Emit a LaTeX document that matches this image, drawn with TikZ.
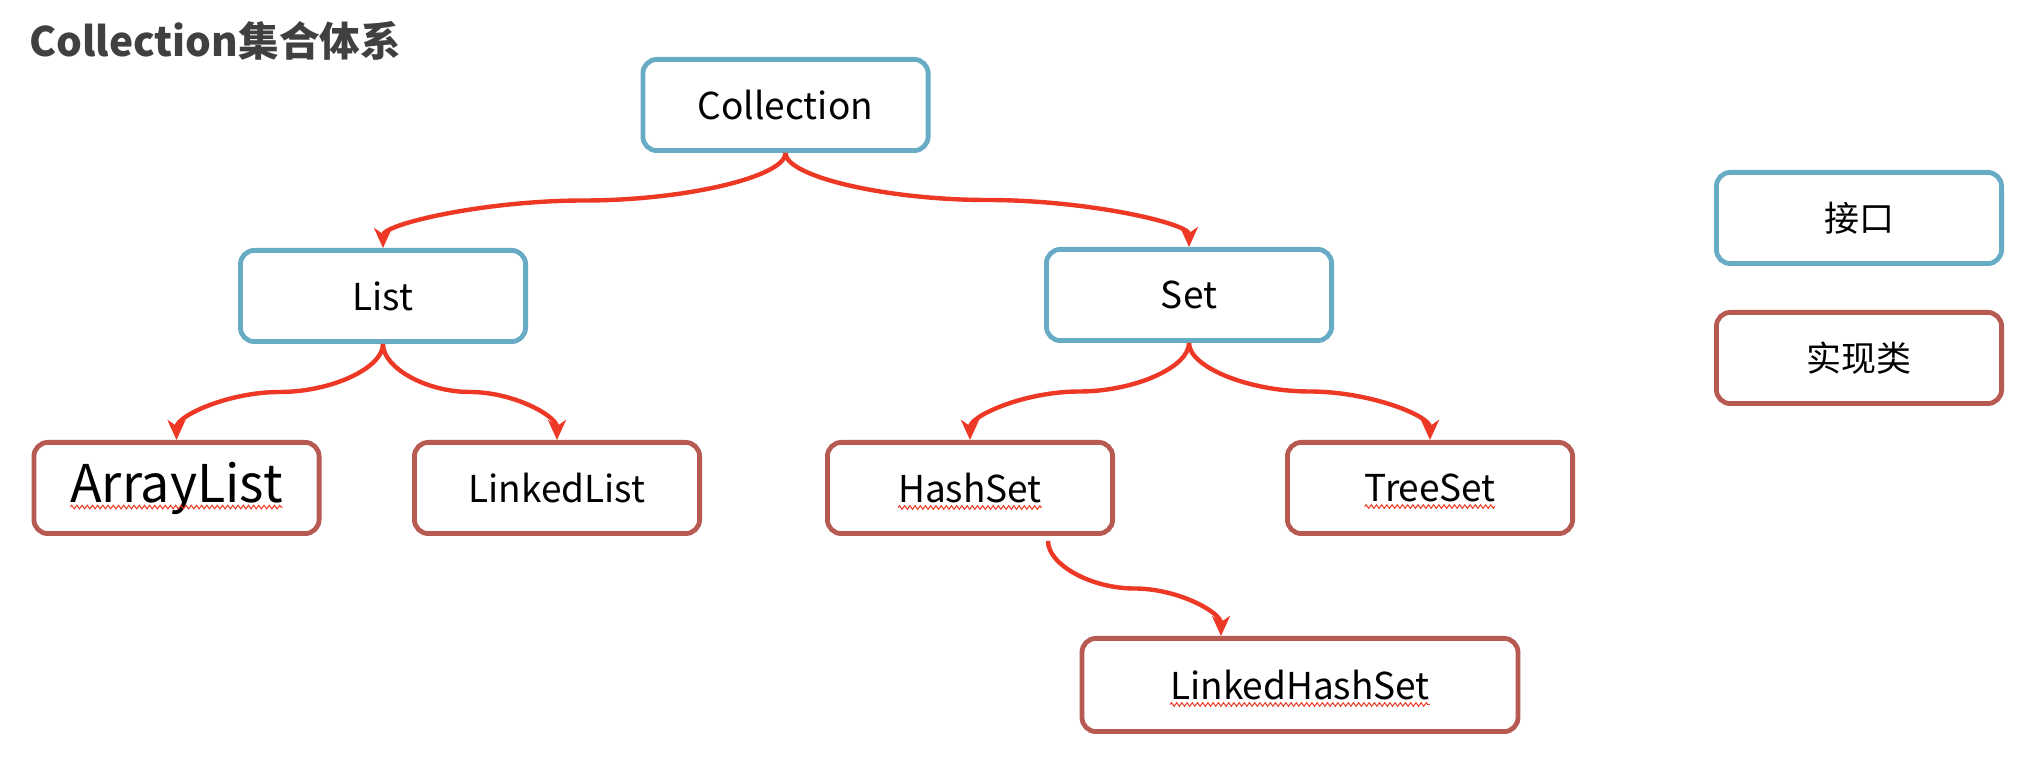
\documentclass[tikz,border=0pt]{standalone}
\usepackage{fontspec}
\setmainfont{Noto Sans CJK SC}
\usetikzlibrary{arrows.meta,calc,decorations.pathmorphing}
\definecolor{ifaceblue}{RGB}{103,171,197}
\definecolor{implred}{RGB}{182,90,82}
\definecolor{arrowred}{RGB}{236,56,36}
\definecolor{titlegray}{RGB}{64,64,64}
\begin{document}
\begin{tikzpicture}[x=0.5pt,y=-0.5pt,
  box/.style={draw, line width=2.4pt, rounded corners=7pt, fill=white,
    minimum width=142.6pt, minimum height=45.6pt, inner sep=0pt,
    font=\fontsize{18.5pt}{22pt}\selectfont},
  iface/.style={box, draw=ifaceblue},
  impl/.style={box, draw=implred},
  wide/.style={minimum width=218pt, minimum height=46.6pt},
  conn/.style={draw=arrowred, line width=2.2pt,
    -{Stealth[length=10pt,width=9pt,inset=3pt]},
    to path={let \p1=(\tikztostart), \p2=(\tikztotarget) in
      .. controls ({\x1},{\y1+(\y2-\y1)/4}) and ({\x1+(\x2-\x1)/4},{(\y1+\y2)/2})
      .. ({(\x1+\x2)/2},{(\y1+\y2)/2})
      .. controls ({\x1+3*(\x2-\x1)/4},{(\y1+\y2)/2}) and ({\x2},{\y1+3*(\y2-\y1)/4})
      .. (\tikztotarget)}},
  squig/.style={draw=arrowred, line width=0.5pt, decorate,
    decoration={zigzag, segment length=2.6pt, amplitude=0.9pt}},
]
\useasboundingbox (0,0) rectangle (2036,758);

\node[anchor=base west, text=titlegray, font=\fontsize{20.3pt}{24pt}\selectfont\bfseries, inner sep=0pt]
  (title) at (29,57) {Collection集合体系};

\node[iface] (coll) at (785.5,105) {Collection};
\node[iface] (list) at (383,296) {List};
\node[iface] (set)  at (1189,295) {Set};
\node[impl, font=\fontsize{26pt}{30pt}\selectfont] (al) at (176.5,488) {ArrayList};
\node[impl] (ll) at (557,488) {LinkedList};
\node[impl] (hs) at (970,488) {HashSet};
\node[impl] (ts) at (1430,488) {TreeSet};
\node[impl, wide] (lhs) at (1300,685) {LinkedHashSet};

\node[iface, font=\fontsize{17.5pt}{21pt}\selectfont] (lgi) at (1859,218) {接口};
\node[impl, font=\fontsize{17.5pt}{21pt}\selectfont] (lgc) at (1859,358) {实现类};

\coordinate (hsout) at ($(hs.south)+(78,5)$);
\coordinate (lhsin) at ($(lhs.north)+(-79,0)$);

\draw[conn] (coll.south) to (list.north);
\draw[conn] (coll.south) to (set.north);
\draw[conn] (list.south) to (al.north);
\draw[conn] (list.south) to (ll.north);
\draw[conn] (set.south) to (hs.north);
\draw[conn] (set.south) to (ts.north);
\draw[conn] (hsout) to (lhsin);

\foreach \n in {al,hs,ts,lhs}{
  \draw[squig] ($(\n.text)+(0,5)$) -- ($(\n.text)!2!(\n.base)+(0,5)$);
}
\end{tikzpicture}
\end{document}
